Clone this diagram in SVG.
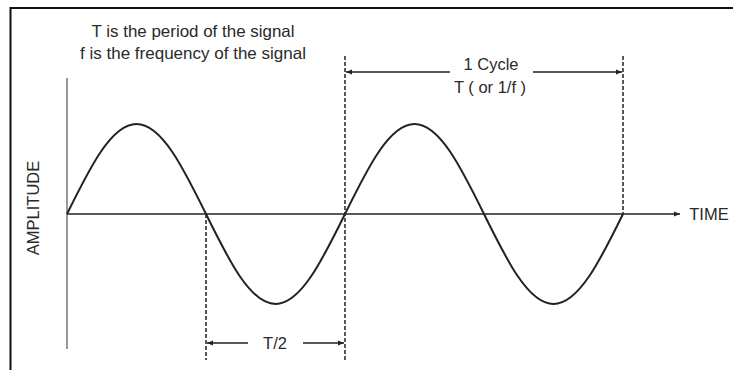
<svg xmlns="http://www.w3.org/2000/svg" width="733" height="370" viewBox="0 0 733 370">
<defs>
<marker id="ah" viewBox="0 0 10 10" refX="10" refY="5" markerWidth="6" markerHeight="6" orient="auto-start-reverse" markerUnits="userSpaceOnUse">
<path d="M0,1 L10,5 L0,9 z" fill="#222"/>
</marker>
<style>
.t{font-family:"Liberation Sans","DejaVu Sans",sans-serif;font-size:16.5px;fill:#2a2a2a;text-anchor:middle}
.dash{stroke:#222;stroke-width:1.5;stroke-dasharray:4 2;fill:none}
.dim{stroke:#222;stroke-width:1.5;fill:none}
</style>
</defs>
<rect x="0" y="0" width="733" height="370" fill="#fff"/>
<g id="frame">
<path d="M10.5,380 L10.5,8 L733,8" fill="none" stroke="#111" stroke-width="2"/>
</g>
<g id="notes">
<text class="t" x="193" y="37" textLength="203" lengthAdjust="spacingAndGlyphs">T is the period of the signal</text>
<text class="t" x="193" y="59" textLength="226" lengthAdjust="spacingAndGlyphs">f is the frequency of the signal</text>
</g>
<g id="amplitude-axis">
<line x1="67" y1="78" x2="67" y2="349" stroke="#999" stroke-width="2"/>
<text class="t" transform="translate(39,208) rotate(-90)" font-size="14.5">AMPLITUDE</text>
</g>
<g id="connectors">
<line x1="67" y1="214" x2="680" y2="214" stroke="#222" stroke-width="1.6" marker-end="url(#ah)"/>
<line class="dash" x1="206" y1="214" x2="206" y2="360"/>
<line class="dash" x1="345" y1="56" x2="345" y2="360"/>
<line class="dash" x1="623" y1="56" x2="623" y2="214"/>
<line class="dim" x1="450" y1="72" x2="346" y2="72" marker-end="url(#ah)"/>
<line class="dim" x1="533" y1="72" x2="622" y2="72" marker-end="url(#ah)"/>
<line class="dim" x1="248" y1="343" x2="207" y2="343" marker-end="url(#ah)"/>
<line class="dim" x1="303" y1="343" x2="344" y2="343" marker-end="url(#ah)"/>
</g>
<g id="signal">
<path d="M67,214 C89.67,167.9 111.35,124 136.5,124 C161.65,124 183.33,167.9 206,214 C228.67,260.1 250.35,304 275.5,304 C300.65,304 322.33,260.1 345,214 C367.67,167.9 389.35,124 414.5,124 C439.65,124 461.33,167.9 484,214 C506.67,260.1 528.35,304 553.5,304 C578.65,304 600.33,260.1 623,214" fill="none" stroke="#222" stroke-width="2"/>
</g>
<g id="labels">
<text class="t" x="709" y="219.5" font-size="14.5">TIME</text>
<text class="t" x="491" y="70">1 Cycle</text>
<text class="t" x="490" y="93">T ( or 1/f )</text>
<text class="t" x="275" y="349">T/2</text>
</g>
</svg>
